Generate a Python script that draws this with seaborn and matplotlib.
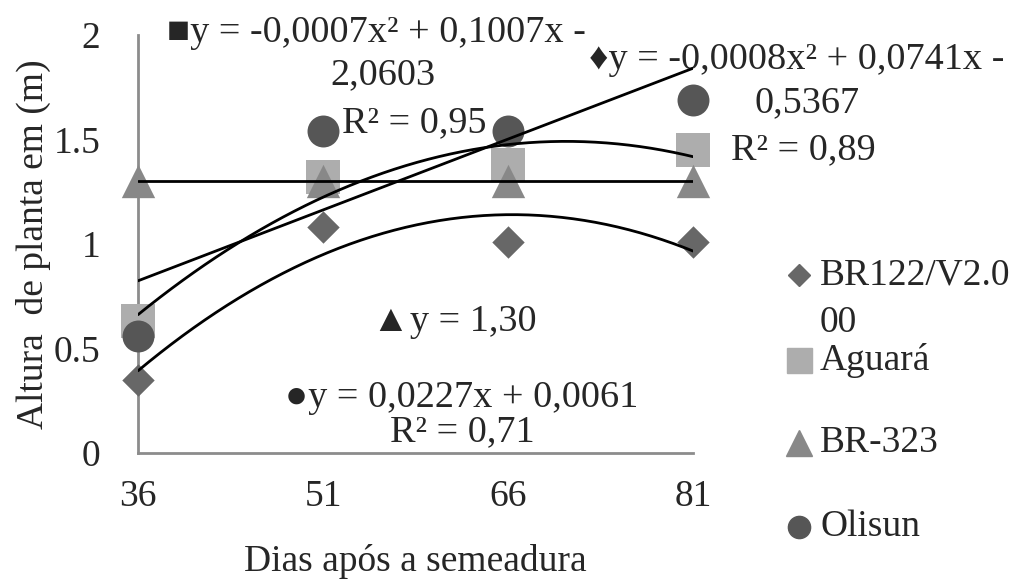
import numpy as np
import pandas as pd
import matplotlib
matplotlib.use("Agg")
import matplotlib.pyplot as plt
import seaborn as sns
from matplotlib.lines import Line2D

# values
dias = [36, 51, 66, 81]
br122 = [0.35, 1.08, 1.01, 1.01]
aguara = [0.63, 1.32, 1.38, 1.45]
br323 = [1.30, 1.30, 1.30, 1.30]
olisun = [0.56, 1.54, 1.54, 1.69]

cultivares = ["BR122/V2.000", "Aguará", "BR-323", "Olisun"]
markers = {"BR122/V2.000": "D", "Aguará": "s", "BR-323": "^", "Olisun": "o"}
cores = {"BR122/V2.000": "#676767", "Aguará": "#adadad",
         "BR-323": "#888888", "Olisun": "#565656"}
sizes = {"BR122/V2.000": 16.5, "Aguará": 25, "BR-323": 24, "Olisun": 23}
leg_sizes = {"BR122/V2.000": 11.5, "Aguará": 18, "BR-323": 18.5, "Olisun": 16}

df = pd.DataFrame({
    "dias": dias * 4,
    "altura": br122 + aguara + br323 + olisun,
    "cultivar": np.repeat(cultivares, 4),
})

sns.set_style("white")
plt.rcParams["font.family"] = ["Liberation Serif", "DejaVu Sans"]

fig = plt.figure(figsize=(10.3, 5.82), dpi=100)
ax = fig.add_axes([0.134, 0.2216, 0.5388, 0.7182])

for c in cultivares:
    sub = df[df.cultivar == c]
    sns.scatterplot(data=sub, x="dias", y="altura", marker=markers[c],
                    color=cores[c], s=sizes[c] ** 2, linewidth=0, ax=ax,
                    zorder=3, clip_on=False, legend=False)

# trend lines fitted from the data
xs = np.linspace(36, 81, 200)
for vals, grau in [(br122, 2), (aguara, 2), (olisun, 1)]:
    p = np.polyfit(dias, vals, grau)
    ax.plot(xs, np.polyval(p, xs), color="black", lw=2, zorder=4)
ax.plot([36, 81], [np.mean(br323)] * 2, color="black", lw=2, zorder=4)

ax.set_xlim(36, 81)
ax.set_ylim(0, 2)
ax.set_xticks(dias)
ax.set_yticks([0, 0.5, 1, 1.5, 2])
ax.set_yticklabels(["0", "0.5", "1", "1.5", "2"])
for s in ["top", "right"]:
    ax.spines[s].set_visible(False)
for s in ["left", "bottom"]:
    ax.spines[s].set_color("#8c8c8c")
    ax.spines[s].set_linewidth(2)
ax.tick_params(axis="both", direction="out", length=8, width=2,
               color="#8c8c8c", labelsize=27)
ax.tick_params(axis="y", pad=19)
ax.tick_params(axis="x", pad=11)
ax.set_xlabel("Dias após a semeadura", fontsize=27, labelpad=22)
ax.set_ylabel("Altura  de planta em (m)", fontsize=27, labelpad=2)

fs = 27.5
kw = dict(fontsize=fs, va="center", clip_on=False)
ax.text(38.35, 2.01, "■y = -0,0007x² + 0,1007x -", **kw)
ax.text(51.6, 1.81, "2,0603", **kw)
ax.text(52.5, 1.58, "R² = 0,95", **kw)
ax.text(72.6, 1.88, "♦y = -0,0008x² + 0,0741x -", **kw)
ax.text(86.0, 1.675, "0,5367", **kw)
ax.text(84.1, 1.45, "R² = 0,89", **kw)
ax.text(55.0, 0.627, "▲y = 1,30", **kw)
ax.text(47.9, 0.263, "●y = 0,0227x + 0,0061", **kw)
ax.text(56.4, 0.10, "R² = 0,71", **kw)

# legend, laid out like the Excel one (marker next to first text line)
leg_y = [275, 360, 443, 527]
W, H = 1030, 582
for c, y in zip(cultivares, leg_y):
    lab = "BR122/V2.0" if c == "BR122/V2.000" else c
    fig.add_artist(Line2D([799 / W], [1 - y / H], ls="", marker=markers[c],
                          color=cores[c], markersize=leg_sizes[c],
                          transform=fig.transFigure))
    fig.text(820 / W, 1 - y / H, lab, fontsize=27, va="center", ha="left")
fig.text(820 / W, 1 - 323 / H, "00", fontsize=27, va="center", ha="left")

fig.savefig("out.png", dpi=100)
